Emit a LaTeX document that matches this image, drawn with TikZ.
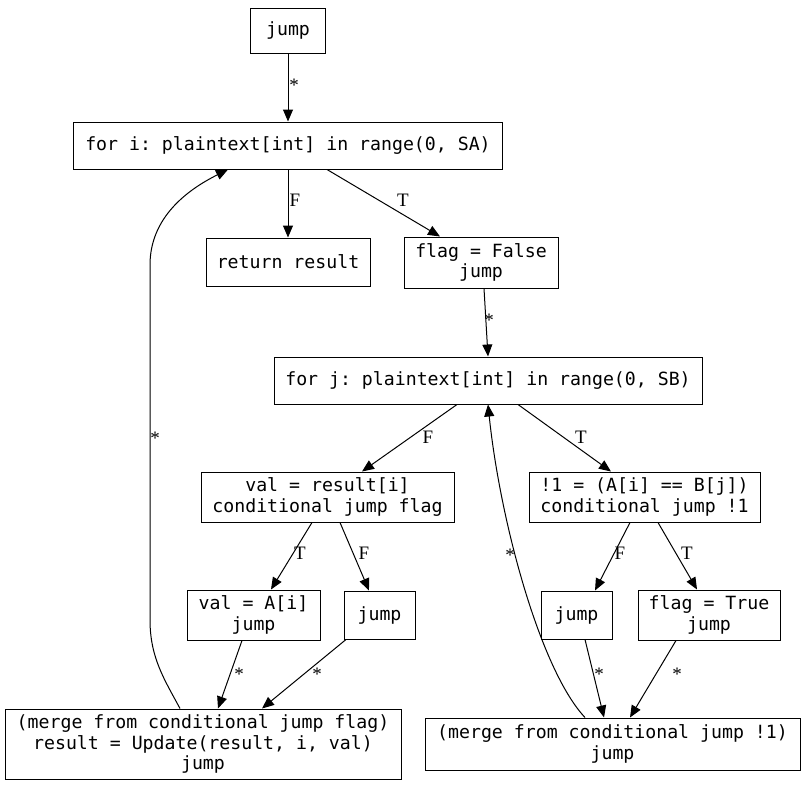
\documentclass[tikz,border=0pt]{standalone}
\usepackage{fontspec}
\setmonofont{DejaVu Sans Mono}
\newfontfamily\lblfont{Liberation Serif}
\usetikzlibrary{arrows.meta}
\begin{document}
\begin{tikzpicture}[x=1pt,y=-1pt,
  box/.style={draw,line width=1pt,inner sep=0pt,align=center,
    font=\ttfamily\fontsize{18.2}{20.5}\selectfont},
  lbl/.style={font=\lblfont\fontsize{19}{20}\selectfont,inner sep=0pt},
  arr/.style={line width=1pt,-{Triangle[length=12pt,width=10pt]}}]
\useasboundingbox (0,0) rectangle (805,785);
\node[box,minimum width=75,minimum height=45] (j0) at (288,30.5) {jump};
\node[box,minimum width=429,minimum height=47] (fori) at (288,145.5) {for i: plaintext[int] in range(0, SA)};
\node[box,minimum width=164,minimum height=48] (ret) at (288,262) {return result};
\node[box,minimum width=154,minimum height=51] (flagF) at (481,262.5) {flag = False\\jump};
\node[box,minimum width=428,minimum height=47] (forj) at (488,380.5) {for j: plaintext[int] in range(0, SB)};
\node[box,minimum width=253,minimum height=50] (valres) at (327.5,497) {val = result[i]\\conditional jump flag};
\node[box,minimum width=231,minimum height=50] (cmp) at (644.5,497) {!1 = (A[i] == B[j])\\conditional jump !1};
\node[box,minimum width=133,minimum height=50] (valA) at (253.5,615) {val = A[i]\\jump};
\node[box,minimum width=71,minimum height=48] (jmid) at (379.5,615) {jump};
\node[box,minimum width=71,minimum height=48] (jr) at (576.5,615) {jump};
\node[box,minimum width=142,minimum height=50] (flagT) at (709,615) {flag = True\\jump};
\node[box,minimum width=396,minimum height=70] (mergeF) at (203,744) {(merge from conditional jump flag)\\result = Update(result, i, val)\\jump};
\node[box,minimum width=375,minimum height=52] (mergeJ) at (612.5,744) {(merge from conditional jump !1)\\jump};

\draw[arr] (j0.south) -- (fori.north);
\draw[arr] (fori.south) -- (ret.north);
\draw[arr] ([xshift=39pt]fori.south) -- ([xshift=-41pt]flagF.north);
\draw[arr] ([xshift=3pt]flagF.south) -- (forj.north);
\draw[arr] ([xshift=-31pt]forj.south) -- ([xshift=34.5pt]valres.north);
\draw[arr] ([xshift=30pt]forj.south) -- ([xshift=-33.5pt]cmp.north);
\draw[arr] ([xshift=-15.5pt]valres.south) -- ([xshift=17.5pt]valA.north);
\draw[arr] ([xshift=12.5pt]valres.south) -- ([xshift=-10.5pt]jmid.north);
\draw[arr] ([xshift=-14.5pt]cmp.south) -- ([xshift=18.5pt]jr.north);
\draw[arr] ([xshift=13.5pt]cmp.south) -- ([xshift=-12pt]flagT.north);
\draw[arr] ([xshift=-11.5pt]valA.south) -- ([xshift=15pt]mergeF.north);
\draw[arr] ([xshift=-33.5pt]jmid.south) -- ([xshift=59pt]mergeF.north);
\draw[arr] ([xshift=8.5pt]jr.south) -- ([xshift=-8.5pt]mergeJ.north);
\draw[arr] ([xshift=-33pt]flagT.south) -- ([xshift=17.5pt]mergeJ.north);
\draw[arr] ([xshift=-23pt]mergeF.north) .. controls +(-15,-28) and +(0,38) .. (150,620)
  -- (150,265) .. controls +(0,-48) and +(-40,20) .. ([xshift=-60pt]fori.south);
\draw[arr] ([xshift=-27.5pt]mergeJ.north) .. controls +(-45,-48) and +(12,116) .. (forj.south);

\node[lbl] (l1) at (294,85) {*};
\node[lbl] (l2) at (295,200) {F};
\node[lbl] (l3) at (403,200) {T};
\node[lbl] (l4) at (489,320) {*};
\node[lbl] (l5) at (428,437) {F};
\node[lbl] (l6) at (581,437) {T};
\node[lbl] (l7) at (300,553) {T};
\node[lbl] (l8) at (364,553) {F};
\node[lbl] (l9) at (620,553) {F};
\node[lbl] (l10) at (687,553) {T};
\node[lbl] (l11) at (239,674) {*};
\node[lbl] (l12) at (317,674) {*};
\node[lbl] (l13) at (599,674) {*};
\node[lbl] (l14) at (677,674) {*};
\node[lbl] (l15) at (155,438) {*};
\node[lbl] (l16) at (510,555) {*};
\end{tikzpicture}
\end{document}
